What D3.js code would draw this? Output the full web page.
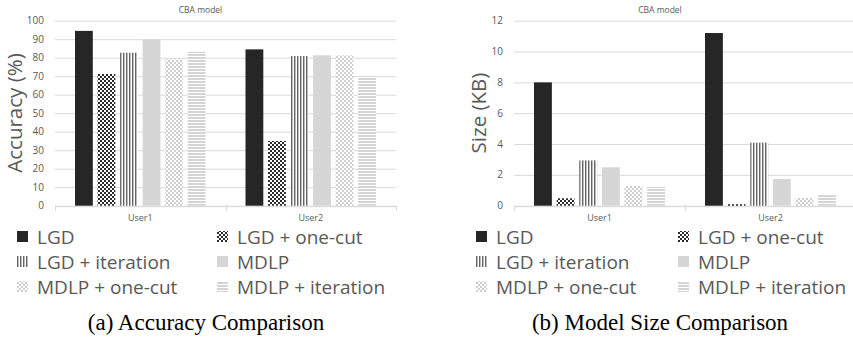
<!DOCTYPE html>
<html>
<head>
<meta charset="utf-8">
<script src="https://cdn.jsdelivr.net/npm/d3@7"></script>
<style>
  body { margin: 0; background: #fff; }
  text { font-family: "Open Sans", sans-serif; }
</style>
</head>
<body>
<script>
// data
const users = ['User1', 'User2'];
const methods = ['LGD', 'LGD + one-cut', 'LGD + iteration', 'MDLP', 'MDLP + one-cut', 'MDLP + iteration'];
// accuracy (%) per method, [User1, User2]
const accLGD = [94.5, 84.5];
const accLGDOneCut = [71.2, 35.0];
const accLGDIter = [82.7, 80.9];
const accMDLP = [90.0, 81.3];
const accMDLPOneCut = [79.1, 81.3];
const accMDLPIter = [83.2, 70.0];
// model size (KB)
const sizeLGD = [8.0, 11.2];
const sizeLGDOneCut = [0.48, 0.1];
const sizeLGDIter = [2.94, 4.09];
const sizeMDLP = [2.49, 1.73];
const sizeMDLPOneCut = [1.28, 0.5];
const sizeMDLPIter = [1.21, 0.69];
const accTicks = [0, 10, 20, 30, 40, 50, 60, 70, 80, 90, 100];
const sizeTicks = [0, 2, 4, 6, 8, 10, 12];

const width = 853, height = 340;
const textColor = '#595959';
const gridColor = '#d9d9d9';

const svg = d3.select('body').append('svg')
    .attr('width', width)
    .attr('height', height);

// fill patterns
const defs = svg.append('defs');
function checker(id, dark) {
    const p = defs.append('pattern').attr('id', id)
        .attr('patternUnits', 'userSpaceOnUse').attr('width', 4).attr('height', 4);
    p.append('rect').attr('width', 4).attr('height', 4).attr('fill', '#fff');
    p.append('rect').attr('width', 2).attr('height', 2).attr('fill', dark);
    p.append('rect').attr('x', 2).attr('y', 2).attr('width', 2).attr('height', 2).attr('fill', dark);
}
checker('oneCut', '#2b2b2b');
checker('mdlpOneCut', '#cfcfcf');

let vp = defs.append('pattern').attr('id', 'iter')
    .attr('patternUnits', 'userSpaceOnUse').attr('width', 3).attr('height', 4);
vp.append('rect').attr('width', 3).attr('height', 4).attr('fill', '#fff');
vp.append('rect').attr('width', 1).attr('height', 4).attr('fill', '#666');
vp.append('rect').attr('x', 1).attr('width', 1).attr('height', 4).attr('fill', '#bbb');

let hp = defs.append('pattern').attr('id', 'mdlpIter')
    .attr('patternUnits', 'userSpaceOnUse').attr('width', 4).attr('height', 3);
hp.append('rect').attr('width', 4).attr('height', 3).attr('fill', '#fff');
hp.append('rect').attr('width', 4).attr('height', 2).attr('fill', '#d4d4d4');

const fills = ['#262626', 'url(#oneCut)', 'url(#iter)', '#d6d6d6', 'url(#mdlpOneCut)', 'url(#mdlpIter)'];

function drawChart(opt) {
    const g = svg.append('g');
    const top = 20.7, bottom = 205.7;

    const y = d3.scaleLinear().domain([opt.ticks[0], opt.ticks[opt.ticks.length - 1]]).range([bottom, top]);
    const x0 = d3.scaleBand().domain(users).range([opt.left, opt.right]);
    const x1 = d3.scaleBand().domain(methods)
        .range([20, x0.bandwidth() - 20]).paddingInner(0.21);

    // gridlines
    g.selectAll('.grid').data(opt.ticks).enter().append('line')
        .attr('x1', opt.left).attr('x2', opt.right)
        .attr('y1', d => y(d) + 0.5).attr('y2', d => y(d) + 0.5)
        .attr('stroke', gridColor).attr('stroke-width', 1);

    // y tick labels
    g.selectAll('.ytick').data(opt.ticks).enter().append('text')
        .attr('x', opt.left - 11).attr('y', d => y(d))
        .attr('dy', '0.35em').attr('text-anchor', 'end')
        .style('font-size', '10px').attr('fill', textColor)
        .text(d => d);

    // bars
    const series = opt.values.map((v, i) => ({ name: methods[i], vals: v, fill: fills[i] }));
    series.forEach(s => {
        g.append('g').selectAll('rect').data(s.vals).enter().append('rect')
            .attr('x', (d, j) => x0(users[j]) + x1(s.name))
            .attr('y', d => y(d))
            .attr('width', x1.bandwidth())
            .attr('height', d => y(0) - y(d))
            .attr('fill', s.fill);
    });

    // x axis line + ticks
    const xAxis = d3.axisBottom(x0).tickSize(0).tickFormat('');
    g.append('g').attr('transform', `translate(0,${bottom + 0.5})`).call(xAxis)
        .call(a => a.select('.domain').attr('stroke', gridColor));
    const bounds = [opt.left, x0('User2'), opt.right];
    g.selectAll('.xt').data(bounds).enter().append('line')
        .attr('x1', d => Math.round(d) + 0.5).attr('x2', d => Math.round(d) + 0.5)
        .attr('y1', bottom).attr('y2', bottom + 5)
        .attr('stroke', gridColor);

    g.selectAll('.cat').data(users).enter().append('text')
        .attr('x', d => x0(d) + x0.bandwidth() / 2).attr('y', 221)
        .attr('text-anchor', 'middle')
        .style('font-size', '9px').attr('fill', textColor)
        .text(d => d);

    // chart title
    g.append('text')
        .attr('x', (opt.left + opt.right) / 2 + opt.titleShift).attr('y', 13)
        .attr('text-anchor', 'middle')
        .style('font-size', '8.5px').attr('fill', textColor)
        .text('CBA model');

    // y axis title
    g.append('text')
        .attr('transform', `translate(${opt.ytitleX},${113}) rotate(-90)`)
        .attr('text-anchor', 'middle').attr('dy', '0.35em')
        .style('font-size', '20.5px').attr('fill', textColor)
        .text(opt.ytitle);

    // legend
    const leg = g.selectAll('.leg').data(methods).enter().append('g')
        .attr('transform', (d, i) => `translate(${i % 2 ? opt.legX2 : opt.legX1},${244 + Math.floor(i / 2) * 25})`);
    leg.append('rect')
        .attr('x', 0).attr('y', -13).attr('width', 11).attr('height', 11)
        .attr('fill', (d, i) => fills[i]);
    leg.append('text')
        .attr('x', 20).attr('y', 0)
        .style('font-size', '19px').attr('fill', textColor)
        .text(d => d);

    // caption
    svg.append('text')
        .attr('x', opt.captionX).attr('y', 330)
        .attr('text-anchor', 'middle')
        .style('font-family', '"Liberation Serif", serif')
        .style('font-size', '23px').attr('fill', '#000')
        .text(opt.caption);
}

drawChart({
    left: 55, right: 396, ticks: accTicks,
    values: [accLGD, accLGDOneCut, accLGDIter, accMDLP, accMDLPOneCut, accMDLPIter],
    ytitle: 'Accuracy (%)', ytitleX: 15, titleShift: -25,
    legX1: 17, legX2: 217, caption: '(a) Accuracy Comparison', captionX: 206
});
drawChart({
    left: 514, right: 856, ticks: sizeTicks,
    values: [sizeLGD, sizeLGDOneCut, sizeLGDIter, sizeMDLP, sizeMDLPOneCut, sizeMDLPIter],
    ytitle: 'Size (KB)', ytitleX: 479, titleShift: -25,
    legX1: 476, legX2: 678, caption: '(b) Model Size Comparison', captionX: 660
});
</script>
</body>
</html>
